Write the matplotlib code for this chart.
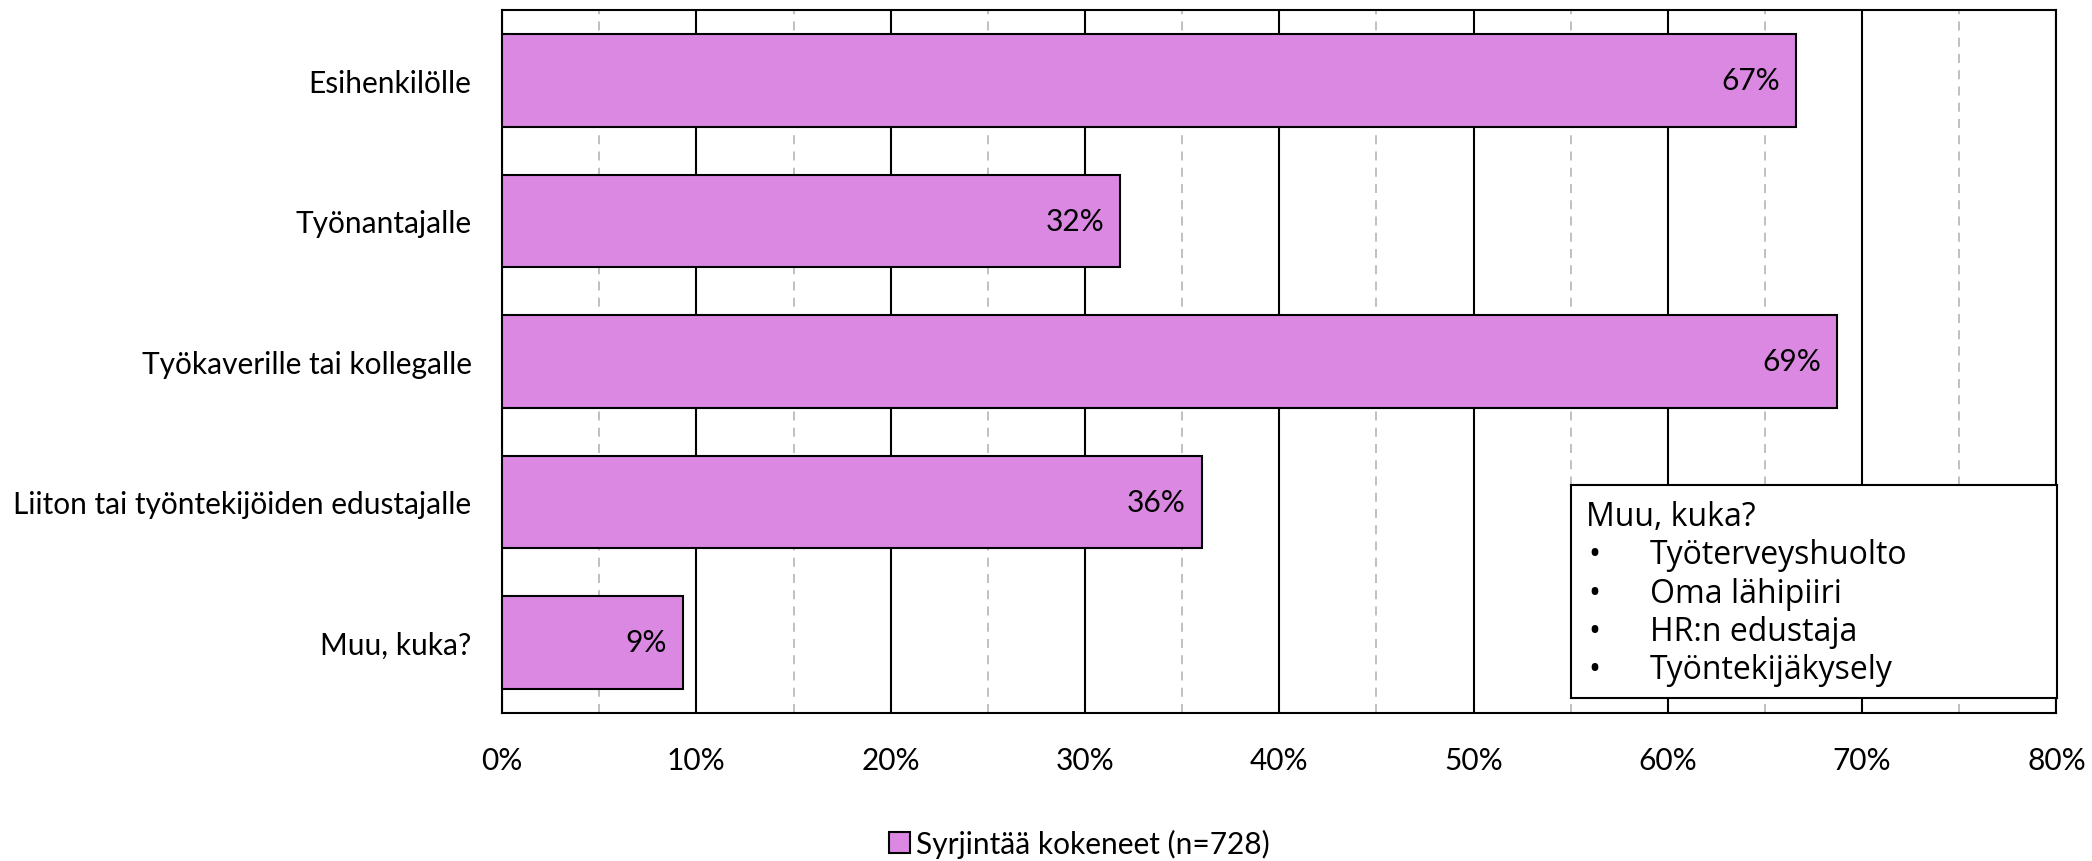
import matplotlib.pyplot as plt
from matplotlib.ticker import MultipleLocator, PercentFormatter
from matplotlib.patches import Patch

# data
kategoriat = ['Esihenkilölle', 'Työnantajalle', 'Työkaverille tai kollegalle',
              'Liiton tai työntekijöiden edustajalle', 'Muu, kuka?']
osuudet = [66.6, 31.8, 68.7, 36.0, 9.3]
sarja = 'Syrjintää kokeneet (n=728)'
muu_lista = ['Työterveyshuolto', 'Oma lähipiiri', 'HR:n edustaja', 'Työntekijäkysely']

vari = '#DA88E2'
plt.rcParams['font.family'] = ['Lato', 'DejaVu Sans']
fs = 21.5

fig = plt.figure(figsize=(20.92, 8.62), dpi=100)
ax = fig.add_axes([0.240, 0.172, 0.743, 0.815])

y = range(len(kategoriat))
bars = ax.barh(y, osuudet, height=0.66, color=vari, edgecolor='black', linewidth=1.5, zorder=3)
for b, v in zip(bars, osuudet):
    ax.text(b.get_width() - 0.8, b.get_y() + b.get_height() / 2, f'{round(v)}%',
            ha='right', va='center', fontsize=fs, zorder=4)

ax.set_ylim(len(kategoriat) - 0.5, -0.5)
ax.set_xlim(0, 80)
ax.set_yticks(list(y))
ax.set_yticklabels(kategoriat, fontsize=fs)
ax.xaxis.set_major_locator(MultipleLocator(10))
ax.xaxis.set_minor_locator(MultipleLocator(5))
ax.xaxis.set_major_formatter(PercentFormatter(decimals=0))
ax.tick_params(axis='x', labelsize=fs, length=0, pad=24, which='both')
ax.tick_params(axis='y', length=0, pad=22)
ax.grid(axis='x', which='major', color='black', linewidth=1.5, zorder=0)
ax.grid(axis='x', which='minor', color='#BBBBBB', linestyle=(0, (5, 4)), linewidth=1.3, zorder=0)
for s in ax.spines.values():
    s.set_linewidth(1.5)
    s.set_color('black')

# "Muu, kuka?" box
bx = fig.add_axes([1571 / 2092, 1 - 699 / 862, (2057 - 1571) / 2092, (699 - 486) / 862])
bx.set_xticks([])
bx.set_yticks([])
for s in bx.spines.values():
    s.set_linewidth(1.5)
bx.text(0.03, 0.93, 'Muu, kuka?', fontsize=23, family=['Open Sans', 'DejaVu Sans'],
        va='top', transform=bx.transAxes)
for i, t in enumerate(muu_lista):
    yy = 0.75 - i * 0.18
    bx.text(0.035, yy, '•', fontsize=23, family=['Open Sans', 'DejaVu Sans'], va='top',
            transform=bx.transAxes)
    bx.text(0.162, yy, t, fontsize=23, family=['Open Sans', 'DejaVu Sans'], va='top',
            transform=bx.transAxes)

fig.legend(handles=[Patch(facecolor=vari, edgecolor='black', linewidth=1.5, label=sarja)],
           loc='center', bbox_to_anchor=(0.516, 1 - 844 / 862), frameon=False,
           fontsize=fs, handlelength=0.7, handleheight=0.7, handletextpad=0.2)

fig.savefig('out.png', dpi=100)
